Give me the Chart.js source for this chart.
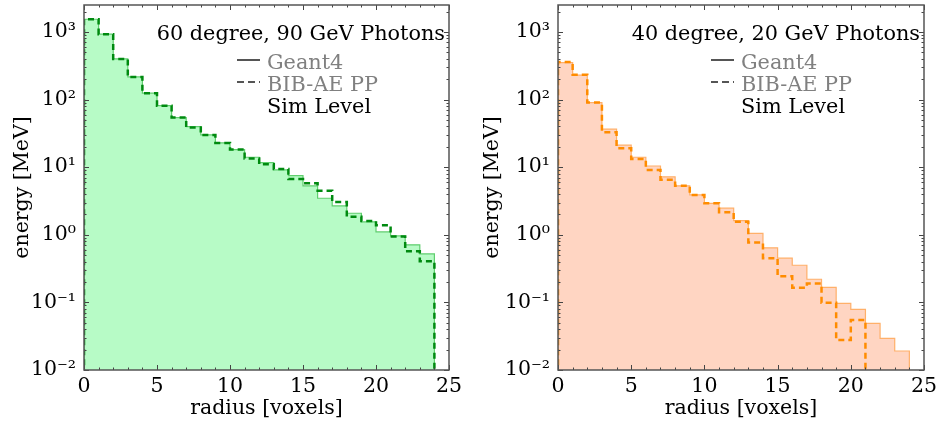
<!DOCTYPE html>
<html>
<head>
<meta charset="utf-8">
<script src="https://cdn.jsdelivr.net/npm/chart.js@4/dist/chart.umd.min.js"></script>
<style>
html,body{margin:0;padding:0;background:#fff;width:940px;height:423px;overflow:hidden;}
.wrap{position:absolute;top:0;width:470px;height:423px;}
canvas{display:block;}
</style>
</head>
<body>
<div class="wrap" style="left:0"><canvas id="left" width="470" height="423"></canvas></div>
<div class="wrap" style="left:470px"><canvas id="right" width="470" height="423"></canvas></div>
<script>
// ---- data ----
const binEdges = [0,1,2,3,4,5,6,7,8,9,10,11,12,13,14,15,16,17,18,19,20,21,22,23,24];
const xTickLabels = [0,5,10,15,20,25];
const yTickValues = [0.01,0.1,1,10,100,1000];

const leftTitle = "60 degree, 90 GeV Photons";
const rightTitle = "40 degree, 20 GeV Photons";
const legendLabels = ["Geant4","BIB-AE PP","Sim Level"];

const geant4Left = [1540,925,398,216,124,81,54,39.7,30,22.8,18.2,14.0,11.7,9.1,7.5,5.27,3.47,2.67,2.08,1.55,1.10,0.96,0.71,0.52];
const bibaeLeft  = [1540,925,398,216,124,81,54,38.5,30,22.8,18.2,13.4,11.0,9.4,6.7,5.8,4.49,3.05,1.85,1.6,1.38,0.94,0.57,0.405];

const geant4Right = [352,229,90,36.4,21.1,14.0,10.4,7.2,5.3,3.88,2.92,2.47,1.62,1.05,0.64,0.45,0.354,0.22,0.167,0.097,0.079,0.049,0.0294,0.0191];
const bibaeRight  = [360,232,90,32.8,19.0,13.2,9.1,6.5,5.3,3.88,2.92,2.15,1.56,0.77,0.45,0.243,0.165,0.19,0.099,0.0278,0.055,0,0,0];

// ---- helpers ----
const FONT = {family:"'DejaVu Serif', serif", size:20.5};
const EMPTY = 1e-4; // empty bins sit below the log axis (clipped)
const SUP = {'-':'\u207B','0':'\u2070','1':'\u00B9','2':'\u00B2','3':'\u00B3','4':'\u2074','5':'\u2075','6':'\u2076','7':'\u2077','8':'\u2078','9':'\u2079'};
function powLabel(v){
  const e = Math.round(Math.log10(v));
  return '10' + String(e).split('').map(c=>SUP[c]).join('');
}
function toSteps(vals){
  const n = vals.length;
  const f = v => (v > 0 ? v : EMPTY);
  const pts = [{x:binEdges[0], y:EMPTY}];
  vals.forEach((v,i)=>pts.push({x:binEdges[i], y:f(v)}));
  pts.push({x:binEdges[n], y:f(vals[n-1])});
  pts.push({x:binEdges[n], y:EMPTY});
  return pts;
}

const deco = {
  id:'deco',
  afterDraw(chart){
    const o = chart.options.plugins.deco;
    const ctx = chart.ctx, a = chart.chartArea;
    const xs = chart.scales.x, ys = chart.scales.y;
    ctx.save();
    // ticks (inside, all four sides)
    ctx.strokeStyle = '#444'; ctx.lineWidth = 1;
    ctx.beginPath();
    for (let v = 0; v <= 25; v++){
      const px = Math.round(xs.getPixelForValue(v)) + 0.5;
      const len = v % 5 === 0 ? 5 : 2.5;
      ctx.moveTo(px, a.bottom); ctx.lineTo(px, a.bottom - len);
      ctx.moveTo(px, a.top); ctx.lineTo(px, a.top + len);
    }
    for (let k = -2; k <= 3; k++){
      for (let m = 1; m <= 9; m++){
        const val = m * Math.pow(10,k);
        if (val < ys.min || val > ys.max) continue;
        const py = Math.round(ys.getPixelForValue(val)) + 0.5;
        const len = m === 1 ? 5 : 2.5;
        ctx.moveTo(a.left, py); ctx.lineTo(a.left + len, py);
        ctx.moveTo(a.right, py); ctx.lineTo(a.right - len, py);
      }
    }
    ctx.stroke();
    // frame
    ctx.strokeStyle = '#555'; ctx.lineWidth = 1.5;
    ctx.strokeRect(a.left, a.top, a.right - a.left, a.bottom - a.top);
    // title
    ctx.font = "20.8px 'DejaVu Serif', serif";
    ctx.fillStyle = '#000'; ctx.textAlign = 'right'; ctx.textBaseline = 'alphabetic';
    ctx.fillText(o.title, a.right - 4, 39.5);
    // legend
    const lx = a.left + 153, tx = a.left + 183;
    ctx.font = "20.8px 'DejaVu Serif', serif";
    ctx.textAlign = 'left';
    ctx.strokeStyle = '#555'; ctx.lineWidth = 2;
    ctx.beginPath(); ctx.moveTo(lx, 60); ctx.lineTo(lx + 23, 60); ctx.stroke();
    ctx.setLineDash([7,4]);
    ctx.beginPath(); ctx.moveTo(lx, 82); ctx.lineTo(lx + 23, 82); ctx.stroke();
    ctx.setLineDash([]);
    ctx.fillStyle = '#808080';
    ctx.fillText(legendLabels[0], tx, 68.5);
    ctx.fillText(legendLabels[1], tx, 91);
    ctx.fillStyle = '#000';
    ctx.fillText(legendLabels[2], tx, 112.7);
    ctx.restore();
  }
};

function makeChart(id, g4, ae, cfg){
  return new Chart(document.getElementById(id), {
    type:'line',
    data:{datasets:[
      {label:legendLabels[1], data:toSteps(ae), stepped:'before', borderColor:cfg.dash, borderWidth:2.5,
       borderDash:[6,4], pointRadius:0, fill:false, order:0},
      {label:legendLabels[0], data:toSteps(g4), stepped:'before', borderColor:cfg.edge, borderWidth:1.2,
       backgroundColor:cfg.fill, fill:'start', pointRadius:0, order:1}
    ]},
    options:{
      responsive:false, animation:false, events:[],
      layout:{padding:{left:0, top:5, right:cfg.padRight, bottom:0}},
      plugins:{legend:{display:false}, tooltip:{enabled:false}, deco:{title:cfg.title}},
      scales:{
        x:{type:'linear', min:0, max:25,
           afterBuildTicks:s=>{s.ticks = xTickLabels.map(v=>({value:v}));},
           ticks:{font:FONT, color:'#000', padding:4, maxRotation:0, autoSkip:false, callback:v=>String(v)},
           grid:{display:false, drawTicks:false}, border:{display:false},
           title:{display:true, text:'radius [voxels]', font:FONT, color:'#000', padding:{top:0,bottom:2}},
           afterFit:s=>{s.height = 53; s.paddingLeft = 0; s.paddingRight = 0;}},
        y:{type:'logarithmic', min:0.01, max:2500,
           afterBuildTicks:s=>{s.ticks = yTickValues.map(v=>({value:v}));},
           ticks:{font:FONT, color:'#000', padding:8, autoSkip:false, callback:v=>powLabel(v)},
           grid:{display:false, drawTicks:false}, border:{display:false},
           title:{display:true, text:'energy [MeV]', font:FONT, color:'#000', padding:{top:10,bottom:0}},
           afterFit:s=>{s.width = cfg.yWidth; s.paddingTop = 0; s.paddingBottom = 0;}}
      }
    },
    plugins:[deco]
  });
}

makeChart('left', geant4Left, bibaeLeft, {
  fill:'#b7fbc6', edge:'#5fce6e', dash:'#008a10', yWidth:84, padRight:21, title:leftTitle
});
makeChart('right', geant4Right, bibaeRight, {
  fill:'#ffd5c2', edge:'#ffb06a', dash:'#ff8c00', yWidth:88, padRight:16, title:rightTitle
});
</script>
</body>
</html>
